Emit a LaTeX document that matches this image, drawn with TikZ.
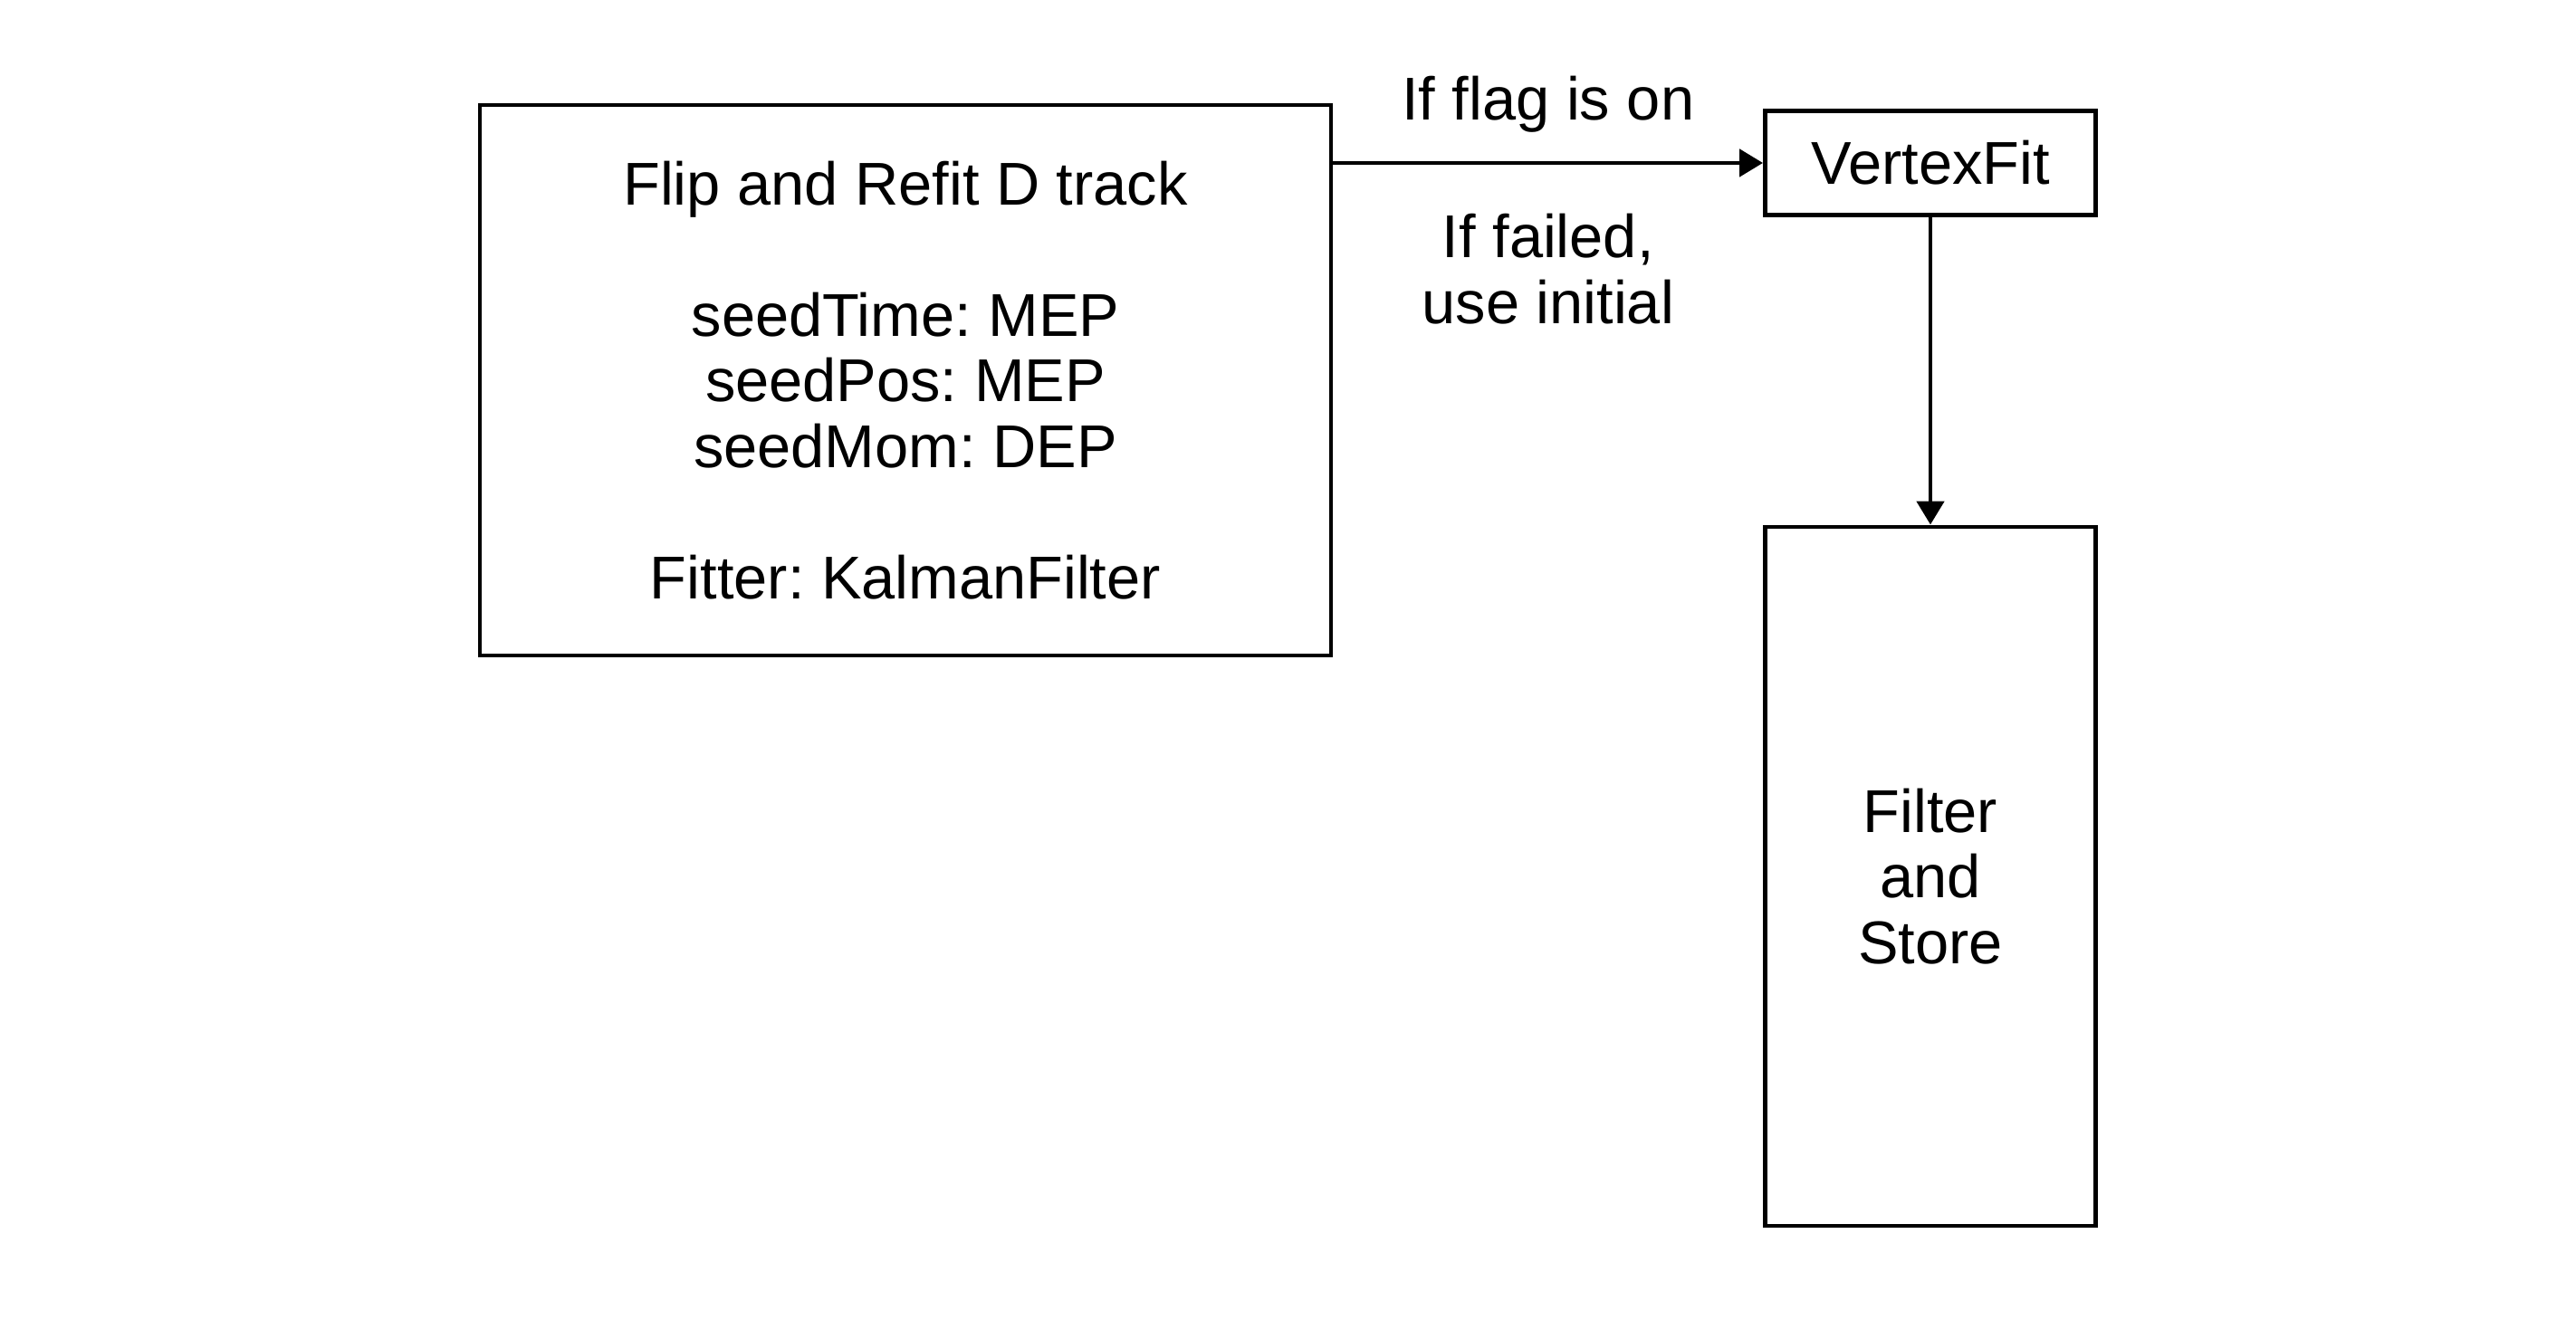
\documentclass[tikz,border=0pt]{standalone}
\usepackage{fontspec}
\setmainfont{Liberation Sans}
\frenchspacing
\usetikzlibrary{arrows.meta}

\tikzset{
    box/.style={draw, line width=1.4pt, rectangle, align=center, inner sep=0pt},
    txt/.style={font=\fontsize{19}{20.6}\selectfont, align=center},
    link/.style={-{Triangle[length=0.26cm, width=0.3cm]}, line width=1.4pt}
}

\begin{document}
\begin{tikzpicture}
    \useasboundingbox (0, 0) rectangle (28.45, 14.58);
    % Nodes
    \node[box, txt, minimum width=9.4cm, minimum height=6.08cm] (refit) at (10.0, 10.38)
        {Flip and Refit D track\\[20.6pt]seedTime: MEP\\seedPos: MEP\\seedMom: DEP\\[20.6pt]Fitter: KalmanFilter};
    \node[box, txt, minimum width=3.65cm, minimum height=1.15cm] (vfit) at (21.32, 12.78) {VertexFit};
    \node[box, txt, minimum width=3.65cm, minimum height=7.72cm] (store) at (21.32, 4.90) {Filter\\and\\Store};
    % Edges
    \draw[link] (refit.east |- vfit.west) -- (vfit.west)
        node[txt, midway, yshift=0.65cm] {If flag is on}
        node[txt, midway, yshift=-1.17cm] {If failed,\\use initial};
    \draw[link] (vfit) -- (store);
\end{tikzpicture}
\end{document}
